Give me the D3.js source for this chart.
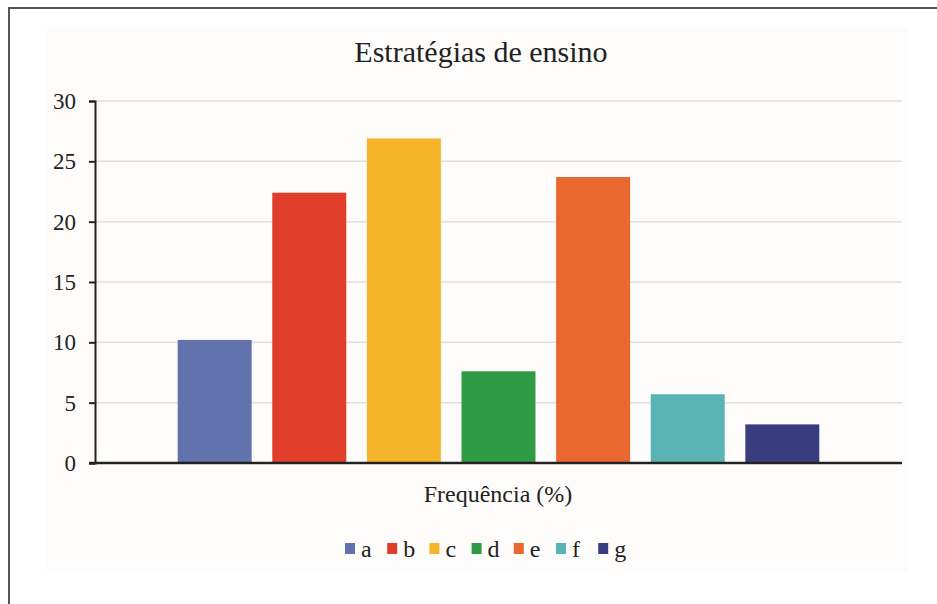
<!DOCTYPE html>
<html>
<head>
<meta charset="utf-8">
<script src="https://cdn.jsdelivr.net/npm/d3@7"></script>
<style>
  body { margin: 0; background: #fff; }
</style>
</head>
<body>
<script>
var categories = ["a", "b", "c", "d", "e", "f", "g"];
var values = [10.2, 22.4, 26.9, 7.6, 23.7, 5.7, 3.2];
var colors = ["#6272ad", "#e03e2b", "#f5b42a", "#2f9b45", "#ea672f", "#5ab4b4", "#383d80"];
var yTicks = [0, 5, 10, 15, 20, 25, 30];

var width = 937, height = 604;
var plot = {left: 95, right: 902, top: 101, bottom: 463};
var serif = "'Liberation Serif', 'Times New Roman', serif";

var svg = d3.select("body")
    .append("svg")
    .attr("width", width)
    .attr("height", height);

// outer frame
svg.append("rect")
    .attr("x", 9).attr("y", 8)
    .attr("width", 1000).attr("height", 1000)
    .attr("fill", "#fff")
    .attr("stroke", "#555")
    .attr("stroke-width", 2);

// chart area background
svg.append("rect")
    .attr("x", 47).attr("y", 27)
    .attr("width", 861).attr("height", 545)
    .attr("fill", "#fdfcfb");

var xScale = d3.scaleBand()
    .domain(categories)
    .range([plot.left, plot.right])
    .paddingInner(0.218)
    .paddingOuter(0.874);

var yScale = d3.scaleLinear()
    .domain([0, 30])
    .range([plot.bottom, plot.top]);

// gridlines
svg.append("g")
    .selectAll("line")
    .data(yTicks.filter(function(d) { return d > 0; }))
    .enter()
    .append("line")
    .attr("x1", plot.left)
    .attr("x2", plot.right)
    .attr("y1", function(d) { return yScale(d); })
    .attr("y2", function(d) { return yScale(d); })
    .attr("stroke", "#e2dedc")
    .attr("stroke-width", 1.5);

// bars
svg.append("g")
    .selectAll("rect")
    .data(values)
    .enter()
    .append("rect")
    .attr("x", function(d, i) { return xScale(categories[i]); })
    .attr("y", function(d) { return yScale(d); })
    .attr("width", xScale.bandwidth())
    .attr("height", function(d) { return yScale(0) - yScale(d); })
    .attr("fill", function(d, i) { return colors[i]; });

// y axis
var yAxis = d3.axisLeft(yScale)
    .tickValues(yTicks)
    .tickSize(6)
    .tickPadding(13);

var yg = svg.append("g")
    .attr("transform", "translate(" + plot.left + ",0)")
    .call(yAxis);
yg.select(".domain").attr("stroke", "#222").attr("stroke-width", 2);
yg.selectAll(".tick line").attr("stroke", "#222").attr("stroke-width", 2);
yg.selectAll(".tick text")
    .style("font-family", serif)
    .style("font-size", "23px")
    .attr("fill", "#222");

// x axis baseline
svg.append("line")
    .attr("x1", plot.left - 6)
    .attr("x2", plot.right)
    .attr("y1", yScale(0))
    .attr("y2", yScale(0))
    .attr("stroke", "#222")
    .attr("stroke-width", 2.5);

// title
svg.append("text")
    .attr("x", 481)
    .attr("y", 62)
    .style("text-anchor", "middle")
    .style("font-family", serif)
    .style("font-size", "30px")
    .attr("fill", "#222")
    .text("Estratégias de ensino");

// x axis label
svg.append("text")
    .attr("x", 498)
    .attr("y", 502)
    .style("text-anchor", "middle")
    .style("font-family", serif)
    .style("font-size", "24px")
    .attr("fill", "#222")
    .text("Frequência (%)");

// legend
var legend = svg.append("g")
    .selectAll("g")
    .data(categories)
    .enter()
    .append("g")
    .attr("transform", function(d, i) { return "translate(" + (345 + i * 42.2) + ",0)"; });

legend.append("rect")
    .attr("x", 0)
    .attr("y", 543)
    .attr("width", 10)
    .attr("height", 11)
    .attr("fill", function(d, i) { return colors[i]; });

legend.append("text")
    .attr("x", 16)
    .attr("y", 557)
    .style("font-family", serif)
    .style("font-size", "24px")
    .attr("fill", "#222")
    .text(function(d) { return d; });
</script>
</body>
</html>
